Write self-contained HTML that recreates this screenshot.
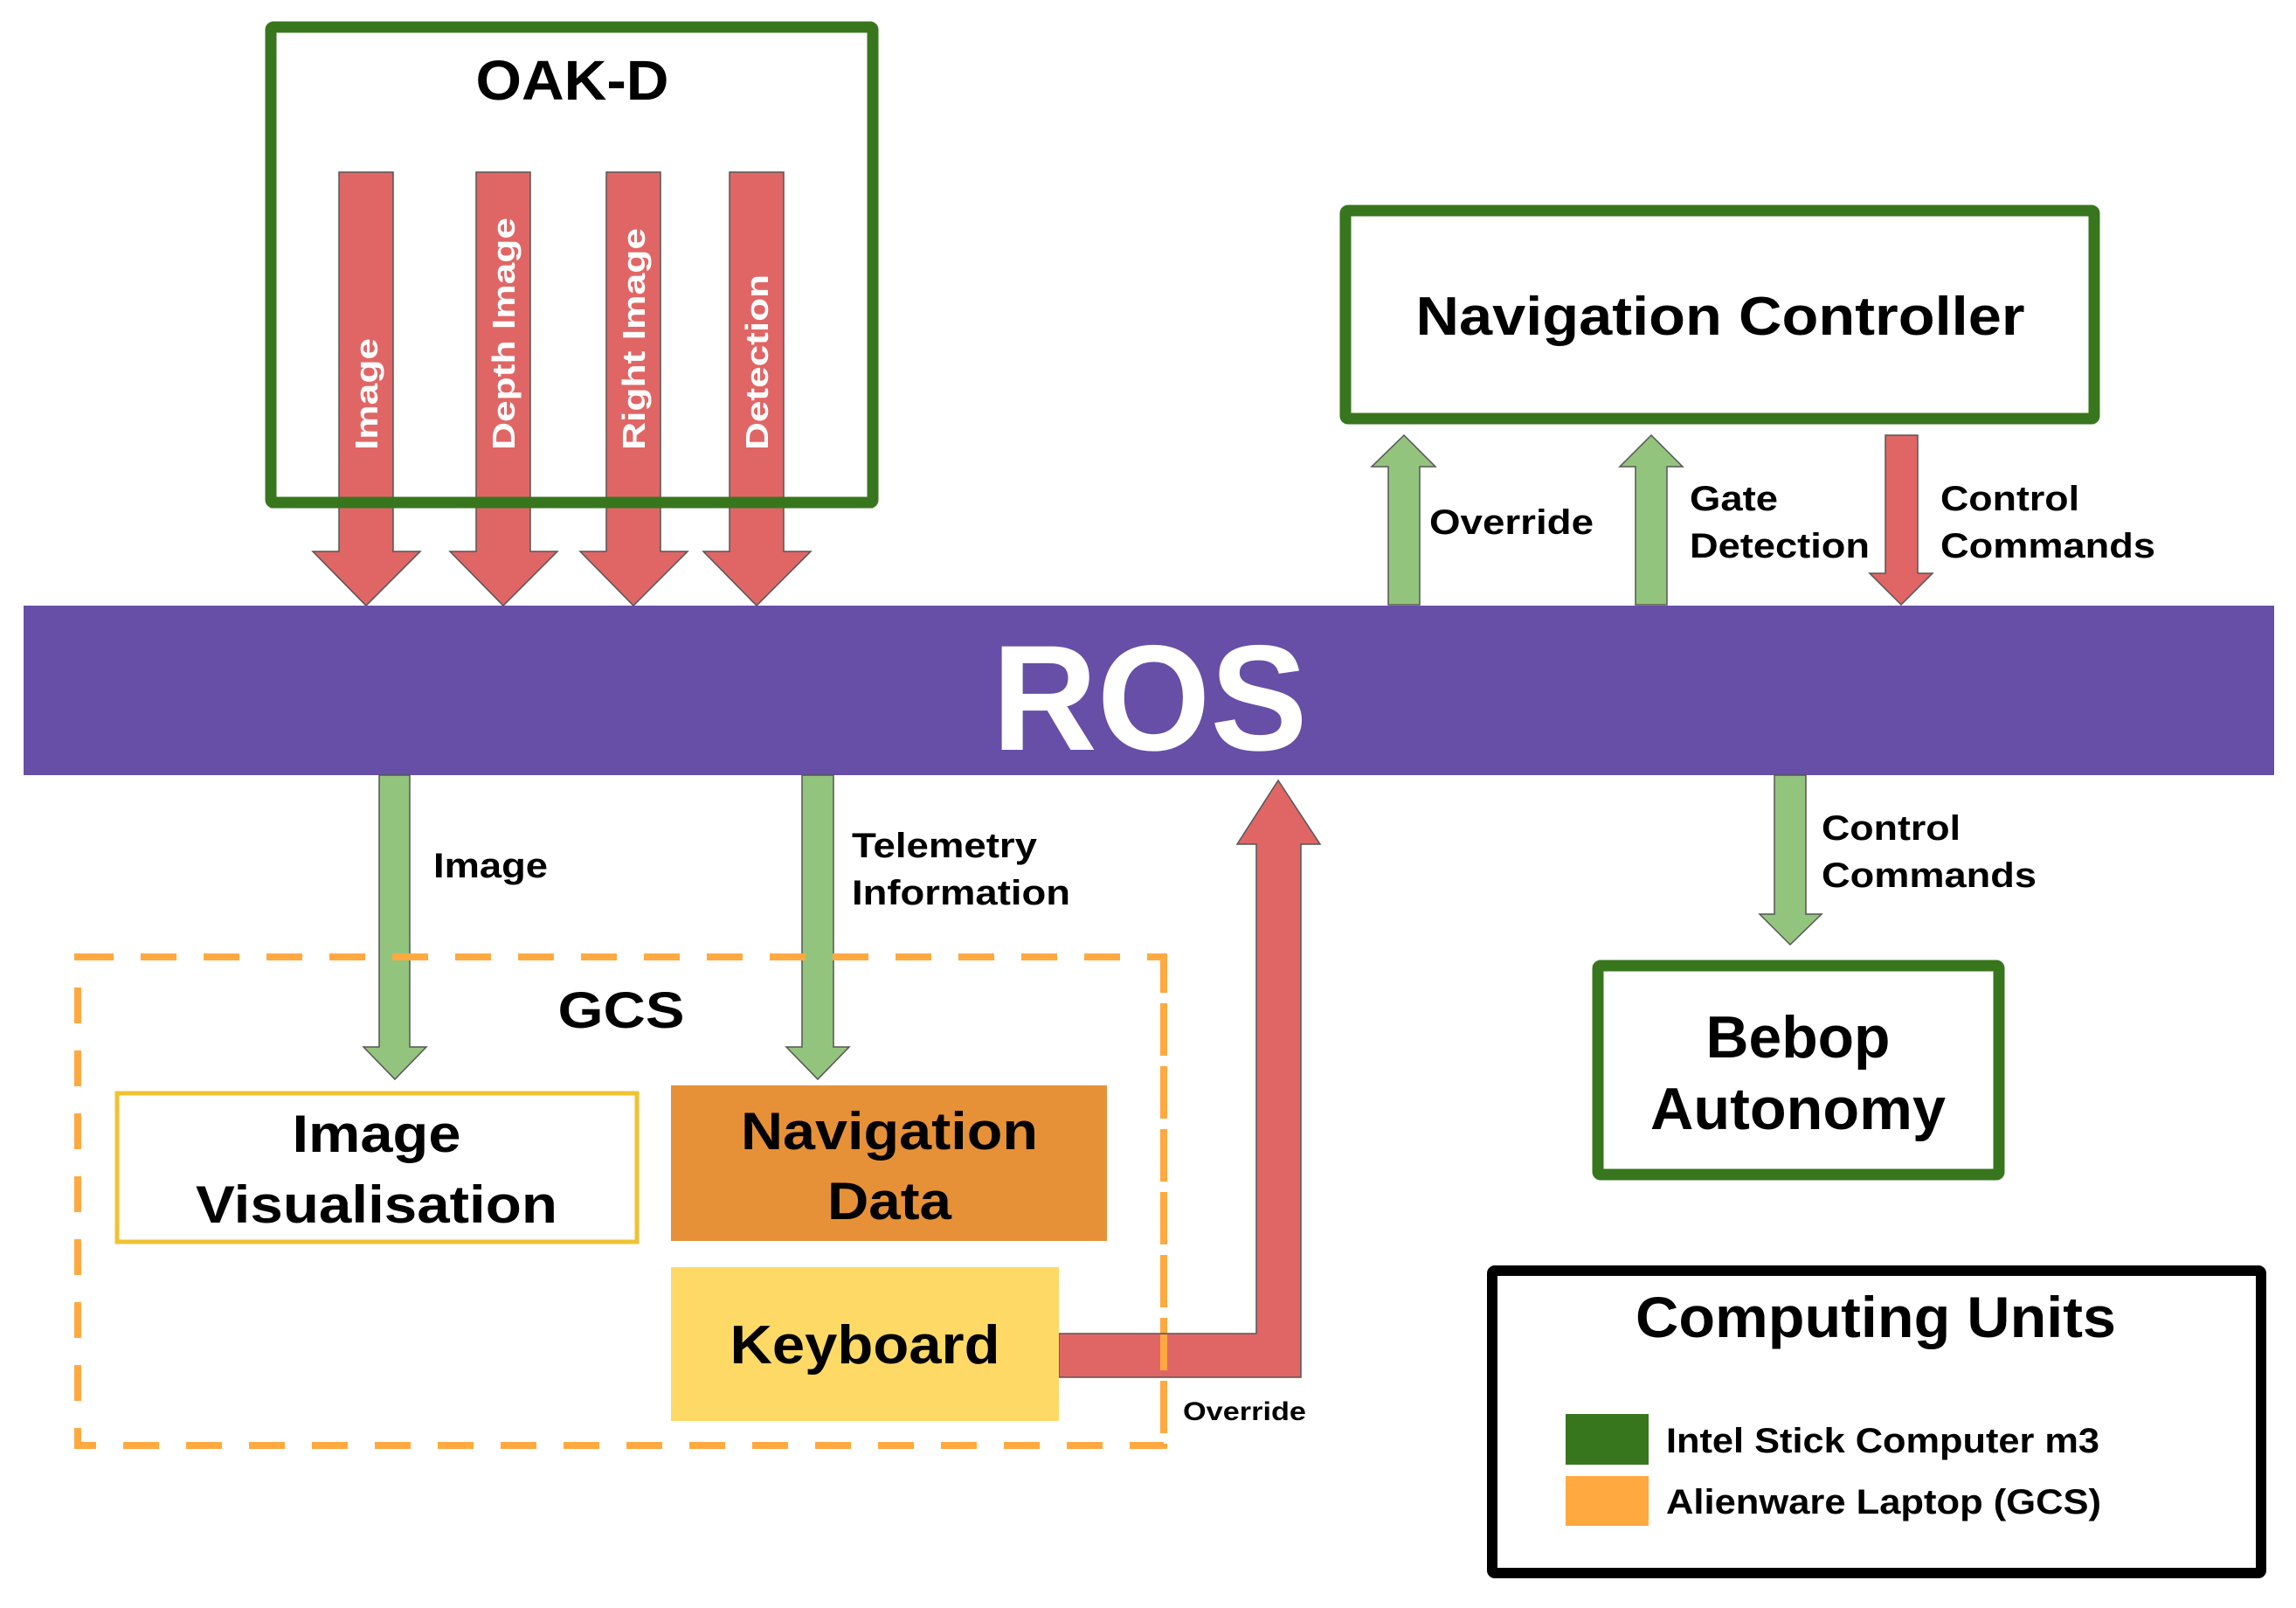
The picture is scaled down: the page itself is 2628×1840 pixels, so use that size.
<!DOCTYPE html>
<html><head><meta charset="utf-8"><style>
html,body{margin:0;padding:0;background:#fff}
svg{display:block}
text{font-family:"Liberation Sans",Arial,sans-serif;font-weight:bold}
</style></head><body>
<svg width="2628" height="1840" viewBox="0 0 2628 1840" xmlns="http://www.w3.org/2000/svg">
<rect width="2628" height="1840" fill="#fff"/>

<!-- OAK-D box -->
<rect x="310" y="31" width="689" height="544" fill="#fff" stroke="#38761d" stroke-width="13" rx="3"/>
<text x="655" y="114" font-size="64" text-anchor="middle" textLength="221" lengthAdjust="spacingAndGlyphs">OAK-D</text>

<!-- red down arrows -->
<g fill="#e06666" stroke="#555" stroke-width="1.5">
<polygon points="388,197 450,197 450,631 481,631 419,693 358,631 388,631"/>
<polygon points="545,197 607,197 607,631 638,631 576,693 515,631 545,631"/>
<polygon points="694,197 756,197 756,631 787,631 725,693 664,631 694,631"/>
<polygon points="835,197 897,197 897,631 928,631 866,693 805,631 835,631"/>
</g>
<!-- redraw box edge over arrows -->
<line x1="310" y1="575" x2="999" y2="575" stroke="#38761d" stroke-width="13"/>
<g fill="#fff" font-size="36">
<text transform="translate(432,515) rotate(-90)" textLength="128" lengthAdjust="spacingAndGlyphs">Image</text>
<text transform="translate(589,515) rotate(-90)" textLength="266" lengthAdjust="spacingAndGlyphs">Depth Image</text>
<text transform="translate(738,515) rotate(-90)" textLength="254" lengthAdjust="spacingAndGlyphs">Right Image</text>
<text transform="translate(879,515) rotate(-90)" textLength="201" lengthAdjust="spacingAndGlyphs">Detection</text>
</g>

<!-- ROS bar -->
<rect x="27" y="693" width="2576" height="194" fill="#674ea7"/>
<text x="1316" y="858" font-size="172" fill="#fff" text-anchor="middle" textLength="361" lengthAdjust="spacingAndGlyphs">ROS</text>

<!-- Navigation Controller -->
<rect x="1540" y="241" width="857" height="238" fill="#fff" stroke="#38761d" stroke-width="13" rx="3"/>
<text x="1969" y="383" font-size="62" text-anchor="middle" textLength="697" lengthAdjust="spacingAndGlyphs">Navigation Controller</text>

<g stroke="#555" stroke-width="1.5">
<polygon fill="#93c47d" points="1589,692 1625,692 1625,534 1643,534 1607,498 1570,534 1589,534"/>
<polygon fill="#93c47d" points="1872,692 1908,692 1908,534 1926,534 1890,498 1854,534 1872,534"/>
<polygon fill="#e06666" points="2158,498 2195,498 2195,656 2212,656 2176,692 2140,656 2158,656"/>
</g>
<g font-size="40">
<text x="1636" y="611" textLength="188" lengthAdjust="spacingAndGlyphs">Override</text>
<text x="1934" y="584" textLength="101" lengthAdjust="spacingAndGlyphs">Gate</text>
<text x="1934" y="638" textLength="206" lengthAdjust="spacingAndGlyphs">Detection</text>
<text x="2221" y="584" textLength="159" lengthAdjust="spacingAndGlyphs">Control</text>
<text x="2221" y="638" textLength="246" lengthAdjust="spacingAndGlyphs">Commands</text>
</g>

<!-- down green arrows -->
<g fill="#93c47d" stroke="#555" stroke-width="1.5">
<polygon points="434,887 469,887 469,1198 488,1198 452,1235 416,1198 434,1198"/>
<polygon points="918,887 954,887 954,1198 972,1198 936,1235 900,1198 918,1198"/>
<polygon points="2031,887 2067,887 2067,1046 2085,1046 2049,1081 2014,1046 2031,1046"/>
</g>
<g font-size="40">
<text x="496" y="1004" textLength="131" lengthAdjust="spacingAndGlyphs">Image</text>
<text x="975" y="981" textLength="212" lengthAdjust="spacingAndGlyphs">Telemetry</text>
<text x="975" y="1035" textLength="250" lengthAdjust="spacingAndGlyphs">Information</text>
<text x="2085" y="961" textLength="159" lengthAdjust="spacingAndGlyphs">Control</text>
<text x="2085" y="1015" textLength="246" lengthAdjust="spacingAndGlyphs">Commands</text>
</g>

<!-- GCS dashed -->
<rect x="89" y="1095" width="1243" height="559" fill="none" stroke="#ffa940" stroke-width="8" stroke-dasharray="41,31"/>
<text x="711" y="1176" font-size="58" text-anchor="middle" textLength="145" lengthAdjust="spacingAndGlyphs">GCS</text>

<rect x="134" y="1251" width="595" height="170" fill="#fff" stroke="#f1c232" stroke-width="5"/>
<text x="431" y="1318" font-size="60" text-anchor="middle" textLength="193" lengthAdjust="spacingAndGlyphs">Image</text>
<text x="431" y="1399" font-size="60" text-anchor="middle" textLength="414" lengthAdjust="spacingAndGlyphs">Visualisation</text>

<rect x="768" y="1242" width="499" height="178" fill="#e69138"/>
<text x="1018" y="1315" font-size="60" text-anchor="middle" textLength="340" lengthAdjust="spacingAndGlyphs">Navigation</text>
<text x="1018" y="1395" font-size="60" text-anchor="middle" textLength="142" lengthAdjust="spacingAndGlyphs">Data</text>

<!-- override red L arrow -->
<polygon fill="#e06666" stroke="#555" stroke-width="1.5" points="1212,1526 1438,1526 1438,966 1416,966 1463,893 1511,966 1489,966 1489,1576 1212,1576"/>
<!-- dashed line over arrow (right edge) -->
<line x1="1332" y1="1095" x2="1332" y2="1654" stroke="#ffa940" stroke-width="8" stroke-dasharray="41,31"/>

<rect x="768" y="1450" width="444" height="176" fill="#ffd966"/>
<text x="990" y="1560" font-size="62" text-anchor="middle" textLength="309" lengthAdjust="spacingAndGlyphs">Keyboard</text>
<text x="1354" y="1625" font-size="30" textLength="141" lengthAdjust="spacingAndGlyphs">Override</text>

<!-- Bebop -->
<rect x="1829" y="1105" width="459" height="239" fill="#fff" stroke="#38761d" stroke-width="13" rx="3"/>
<text x="2058" y="1210" font-size="68" text-anchor="middle" textLength="211" lengthAdjust="spacingAndGlyphs">Bebop</text>
<text x="2058" y="1292" font-size="68" text-anchor="middle" textLength="338" lengthAdjust="spacingAndGlyphs">Autonomy</text>

<!-- legend -->
<rect x="1708" y="1454" width="880" height="346" fill="#fff" stroke="#000" stroke-width="12" rx="3"/>
<text x="2147" y="1530" font-size="66" text-anchor="middle" textLength="550" lengthAdjust="spacingAndGlyphs">Computing Units</text>
<rect x="1792" y="1618" width="95" height="58" fill="#38761d"/>
<rect x="1792" y="1689" width="95" height="57" fill="#ffa940"/>
<text x="1907" y="1662" font-size="40" textLength="496" lengthAdjust="spacingAndGlyphs">Intel Stick Computer m3</text>
<text x="1907" y="1732" font-size="40" textLength="498" lengthAdjust="spacingAndGlyphs">Alienware Laptop (GCS)</text>
</svg>
</body></html>
